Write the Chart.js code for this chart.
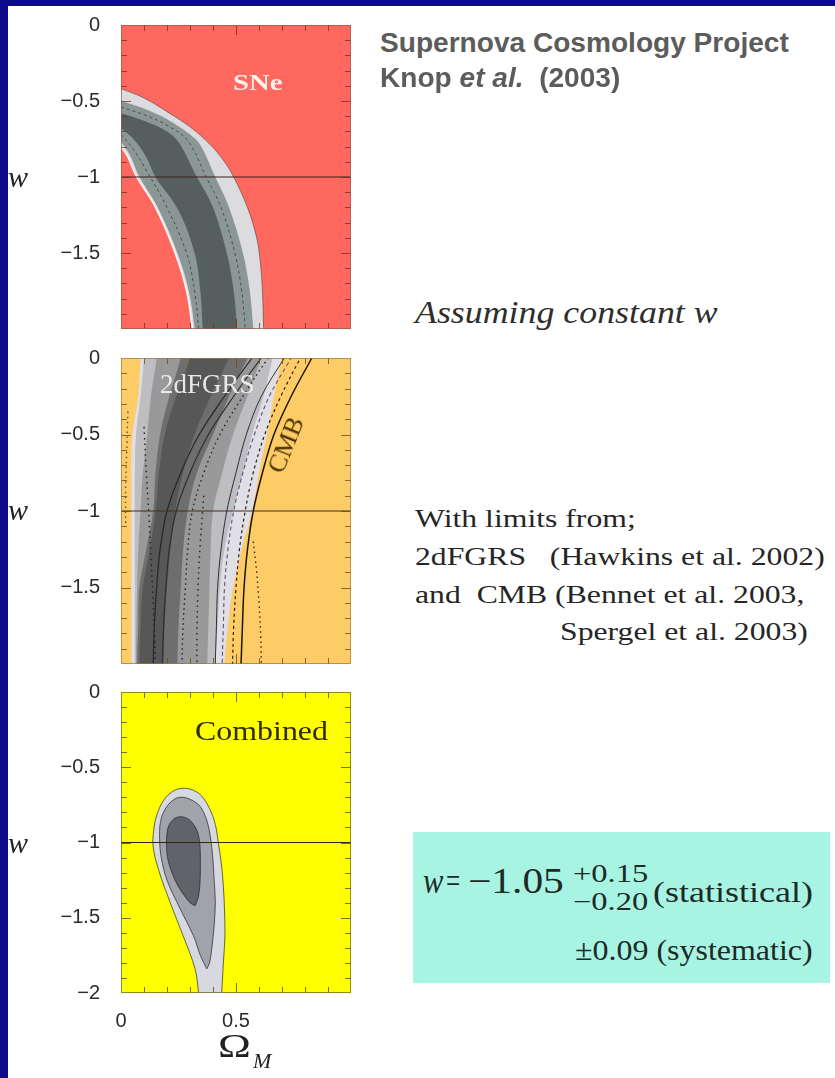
<!DOCTYPE html>
<html>
<head>
<meta charset="utf-8">
<title>Supernova Cosmology Project – constant w</title>
<script src="https://cdn.jsdelivr.net/npm/chart.js"></script>
<style>
  html, body { margin: 0; padding: 0; }
  body { width: 835px; height: 1078px; position: relative; overflow: hidden; background: #ffffff; }
  .edge-left { position: absolute; left: 0; top: 0; width: 8px; height: 1078px; background: #0a0a8a; }
  .edge-top { position: absolute; left: 0; top: 0; width: 835px; height: 6px; background: #0a0a8a; }
  canvas { position: absolute; left: 0; }
  .t { position: absolute; white-space: pre; transform-origin: 0 0; line-height: normal; }
  .serif { font-family: "Liberation Serif", "Times New Roman", serif; }
  .sans { font-family: "Liberation Sans", Arial, sans-serif; }
  .box { position: absolute; left: 413px; top: 832px; width: 417px; height: 151px; background: rgb(168, 244, 226); }
</style>
</head>
<body>
<div class="edge-left"></div>
<div class="edge-top"></div>

<canvas id="sne" width="360" height="334" style="top:5px"></canvas>
<canvas id="limits" width="360" height="336" style="top:338px"></canvas>
<canvas id="combined" width="360" height="406" style="top:672px"></canvas>

<!-- axis titles -->
<div class="t serif" style="left:8px;top:160px;font-size:30px;font-style:italic;color:#222">w</div>
<div class="t serif" style="left:8px;top:493px;font-size:30px;font-style:italic;color:#222">w</div>
<div class="t serif" style="left:8px;top:826px;font-size:30px;font-style:italic;color:#222">w</div>
<div class="t serif" style="left:218px;top:1027px;font-size:34px;color:#222;transform:scaleX(1.3)">Ω</div>
<div class="t serif" style="left:253px;top:1048px;font-size:22px;font-style:italic;color:#222">M</div>

<!-- panel labels -->
<div class="t serif" style="left:233px;top:69px;font-size:24px;font-weight:bold;color:#fff0ea;transform:scaleX(1.2)">SNe</div>
<div class="t serif" style="left:160px;top:369px;font-size:27px;color:rgba(242,242,242,0.92)">2dFGRS</div>
<div class="t serif" style="left:286px;top:445px;font-size:26px;color:#4b3300;transform-origin:50% 50%;transform:translate(-50%,-50%) rotate(-68deg)">CMB</div>
<div class="t serif" style="left:195px;top:715px;font-size:28px;color:#2f2c00;transform:scaleX(1.14)">Combined</div>

<!-- right-hand notes -->
<div class="t sans" style="left:380px;top:28px;font-size:27px;font-weight:bold;color:#5c5c5c;transform:scaleX(1.04)">Supernova Cosmology Project</div>
<div class="t sans" style="left:380px;top:63px;font-size:27px;font-weight:bold;color:#5c5c5c;transform:scaleX(1.04)">Knop <i>et al.</i>  (2003)</div>
<div class="t serif" style="left:415px;top:294px;font-size:32px;font-style:italic;color:#2e2e2e;transform:scaleX(1.12)">Assuming constant w</div>
<div class="t serif" style="left:415px;top:504px;font-size:26px;color:#262626;transform:scaleX(1.22)">With limits from;</div>
<div class="t serif" style="left:415px;top:542px;font-size:26px;color:#262626;transform:scaleX(1.22)">2dFGRS   (Hawkins et al. 2002)</div>
<div class="t serif" style="left:415px;top:580px;font-size:26px;color:#262626;transform:scaleX(1.22)">and  CMB (Bennet et al. 2003,</div>
<div class="t serif" style="left:560px;top:617px;font-size:26px;color:#262626;transform:scaleX(1.22)">Spergel et al. 2003)</div>

<div class="box"></div>
<div class="t serif" style="left:423px;top:860px;font-size:36px;font-style:italic;color:#1e2a28;transform:scaleX(0.85)">w</div>
<div class="t serif" style="left:446px;top:860px;font-size:36px;color:#1e2a28;transform:scaleX(0.7)">=</div>
<div class="t serif" style="left:468px;top:860px;font-size:36px;color:#1e2a28;transform:scaleX(1.15)">−1.05</div>
<div class="t serif" style="left:573px;top:860px;font-size:25px;color:#1e2a28;transform:scaleX(1.3)">+0.15</div>
<div class="t serif" style="left:573px;top:888px;font-size:25px;color:#1e2a28;transform:scaleX(1.3)">−0.20</div>
<div class="t serif" style="left:653px;top:875px;font-size:30px;color:#1e2a28;transform:scaleX(1.2)">(statistical)</div>
<div class="t serif" style="left:575px;top:933px;font-size:30px;color:#1e2a28;transform:scaleX(1.065)">±0.09 (systematic)</div>

<script>
// ---- axis ticks -------------------------------------------------------
const omegaMinorTicks = [0.1, 0.2, 0.3, 0.4, 0.5, 0.6, 0.7, 0.8, 0.9];
const omegaMajorTicks = [0.5];
const omegaTickLabels = [0, 0.5];
const wMinorTicks = [-0.1, -0.2, -0.3, -0.4, -0.5, -0.6, -0.7, -0.8, -0.9, -1,
                     -1.1, -1.2, -1.3, -1.4, -1.5, -1.6, -1.7, -1.8, -1.9];
const wMajorTicks = [-0.5, -1, -1.5];
const wTickLabelsUpper = [0, -0.5, -1, -1.5];
const wTickLabelsLower = [0, -0.5, -1, -1.5, -2];
const wCosmologicalConstant = -1;

// ---- SNe confidence bands, [Omega_M, w] ----------------------------------
const sneOuterUpper = [[-0.05,-0.40],[0,-0.42],[0.1,-0.48],[0.2,-0.57],[0.3,-0.67],[0.39,-0.79],[0.45,-0.9],[0.49,-1.0],[0.55,-1.2],[0.59,-1.4],[0.605,-1.55],[0.615,-1.75],[0.62,-2.0],[0.622,-2.1]];
const sneMidUpper   = [[-0.05,-0.48],[0,-0.5],[0.1,-0.55],[0.2,-0.62],[0.3,-0.72],[0.345,-0.79],[0.41,-1.0],[0.47,-1.2],[0.53,-1.5],[0.56,-1.75],[0.575,-2.0],[0.578,-2.1]];
const sneCoreUpper  = [[-0.05,-0.56],[0,-0.58],[0.1,-0.63],[0.2,-0.7],[0.25,-0.77],[0.33,-1.0],[0.4,-1.2],[0.46,-1.5],[0.49,-1.75],[0.505,-2.0],[0.508,-2.1]];
const sneCoreLower  = [[-0.05,-0.64],[0,-0.68],[0.06,-0.76],[0.11,-0.87],[0.15,-1.0],[0.25,-1.22],[0.32,-1.5],[0.345,-1.75],[0.355,-2.0],[0.357,-2.1]];
const sneMidLower   = [[-0.03,-0.72],[0,-0.77],[0.04,-0.86],[0.08,-1.0],[0.16,-1.2],[0.245,-1.5],[0.295,-1.75],[0.32,-2.0],[0.323,-2.1]];
const sneOuterLower = [[-0.03,-0.75],[0,-0.8],[0.03,-0.87],[0.068,-1.0],[0.15,-1.2],[0.235,-1.5],[0.285,-1.75],[0.31,-2.0],[0.313,-2.1]];
const sneDashedUpper = [[0,-0.54],[0.1,-0.59],[0.2,-0.66],[0.29,-0.76],[0.37,-1.0],[0.435,-1.2],[0.495,-1.5],[0.525,-1.75],[0.54,-2.0],[0.542,-2.1]];
const sneDashedLower = [[0,-0.72],[0.05,-0.81],[0.1,-0.93],[0.2,-1.2],[0.285,-1.5],[0.32,-1.75],[0.337,-2.0],[0.339,-2.1]];

// ---- 2dFGRS likelihood regions, [Omega_M, w] -----------------------------
const twodfOuterLeft  = [[0.09,0.1],[0.085,0],[0.075,-0.25],[0.05,-0.5],[0.045,-0.75],[0.045,-1],[0.045,-1.25],[0.045,-1.5],[0.045,-1.75],[0.045,-2],[0.045,-2.1]];
const twodfOuterRight = [[0.72,0.1],[0.70,0],[0.665,-0.25],[0.635,-0.5],[0.60,-0.75],[0.57,-1],[0.525,-1.25],[0.487,-1.5],[0.465,-1.75],[0.45,-2],[0.448,-2.1]];
const twodfPaleLeft   = [[0.105,0.1],[0.10,0],[0.085,-0.25],[0.065,-0.5],[0.06,-0.75],[0.06,-1],[0.06,-1.25],[0.06,-1.5],[0.06,-1.75],[0.06,-2],[0.06,-2.1]];
const twodfPaleRight  = [[0.68,0.1],[0.66,0],[0.62,-0.25],[0.57,-0.5],[0.53,-0.75],[0.487,-1],[0.45,-1.25],[0.43,-1.5],[0.42,-1.75],[0.41,-2],[0.408,-2.1]];
const twodfMidLeft    = [[0.16,0.1],[0.155,0],[0.13,-0.25],[0.114,-0.5],[0.095,-0.75],[0.085,-1],[0.075,-1.25],[0.07,-1.5],[0.067,-1.75],[0.065,-2],[0.065,-2.1]];
const twodfMidRight   = [[0.63,0.1],[0.61,0],[0.55,-0.25],[0.487,-0.5],[0.44,-0.75],[0.40,-1],[0.39,-1.25],[0.385,-1.5],[0.38,-1.75],[0.375,-2],[0.374,-2.1]];
const twodfDarkLeft   = [[0.27,0.1],[0.26,0],[0.21,-0.25],[0.17,-0.5],[0.15,-0.75],[0.14,-1],[0.11,-1.25],[0.08,-1.5],[0.075,-1.75],[0.07,-2],[0.07,-2.1]];
const twodfDarkRight  = [[0.58,0.1],[0.55,0],[0.47,-0.25],[0.40,-0.5],[0.33,-0.75],[0.29,-1],[0.27,-1.25],[0.26,-1.5],[0.25,-1.75],[0.245,-2],[0.244,-2.1]];
const twodfCoreLeft   = [[0.31,0.1],[0.30,0],[0.24,-0.25],[0.19,-0.5],[0.165,-0.75],[0.15,-1],[0.125,-1.25],[0.095,-1.5],[0.085,-1.75],[0.08,-2],[0.08,-2.1]];
const twodfCoreRight  = [[0.5,0.1],[0.47,0],[0.39,-0.25],[0.32,-0.5],[0.27,-0.75],[0.235,-1],[0.215,-1.25],[0.2,-1.5],[0.19,-1.75],[0.185,-2],[0.185,-2.1]];
const twodfContourA   = [[0.6,0.05],[0.57,0],[0.45,-0.25],[0.34,-0.5],[0.26,-0.75],[0.2,-1],[0.17,-1.25],[0.155,-1.5],[0.145,-1.75],[0.14,-2],[0.14,-2.1]];
const twodfContourB   = [[0.64,0.05],[0.61,0],[0.49,-0.25],[0.38,-0.5],[0.3,-0.75],[0.24,-1],[0.21,-1.25],[0.195,-1.5],[0.185,-1.75],[0.18,-2],[0.18,-2.1]];
const twodfDottedA    = [[0.67,0.05],[0.64,0],[0.53,-0.25],[0.43,-0.5],[0.36,-0.75],[0.31,-1],[0.29,-1.25],[0.28,-1.5],[0.27,-1.75],[0.265,-2],[0.265,-2.1]];
const twodfDottedB    = [[0.1,-0.45],[0.11,-0.75],[0.12,-1.0],[0.13,-1.3],[0.14,-1.6],[0.15,-2],[0.15,-2.1]];
const twodfDottedC    = [[0.36,-0.9],[0.345,-1.2],[0.335,-1.5],[0.33,-1.8],[0.33,-2],[0.33,-2.1]];
const twodfDottedD    = [[0.03,-0.35],[0.025,-0.6],[0.02,-0.85],[0.02,-1.1]];

// ---- CMB contours, [Omega_M, w] ------------------------------------------
const cmbOuter  = [[0.85,0.05],[0.83,0],[0.74,-0.25],[0.665,-0.5],[0.615,-0.75],[0.575,-1],[0.55,-1.25],[0.535,-1.5],[0.528,-1.75],[0.522,-2],[0.52,-2.1]];
const cmbMiddle = [[0.8,0.05],[0.78,0],[0.695,-0.25],[0.625,-0.5],[0.575,-0.75],[0.54,-1],[0.515,-1.25],[0.5,-1.5],[0.49,-1.75],[0.485,-2],[0.484,-2.1]];
const cmbInnerA = [[0.76,0.05],[0.74,0],[0.645,-0.25],[0.58,-0.5],[0.53,-0.75],[0.49,-1],[0.465,-1.25],[0.45,-1.5],[0.445,-1.75],[0.44,-2],[0.44,-2.1]];
const cmbInnerB = [[0.73,0.05],[0.71,0],[0.61,-0.25],[0.545,-0.5],[0.5,-0.75],[0.46,-1],[0.435,-1.25],[0.42,-1.5],[0.415,-1.75],[0.41,-2],[0.41,-2.1]];
const cmbDotted = [[0.575,-1.2],[0.59,-1.4],[0.6,-1.6],[0.607,-1.8],[0.61,-2],[0.61,-2.1]];

// ---- combined confidence regions, [Omega_M, w] ----------------------------
const combinedOuter = [[0.34,-2.1],[0.337,-2.0],[0.322,-1.84],[0.27,-1.62],[0.214,-1.40],[0.163,-1.18],[0.14,-1.03],[0.142,-0.92],[0.155,-0.82],[0.185,-0.72],[0.225,-0.66],[0.265,-0.64],[0.31,-0.65],[0.35,-0.69],[0.387,-0.78],[0.41,-0.88],[0.423,-1.0],[0.437,-1.15],[0.445,-1.29],[0.45,-1.45],[0.452,-1.62],[0.445,-1.8],[0.438,-2.0],[0.436,-2.1]];
const combinedMiddle = [[0.373,-1.84],[0.345,-1.75],[0.315,-1.62],[0.257,-1.44],[0.2,-1.25],[0.175,-1.1],[0.168,-0.98],[0.172,-0.86],[0.195,-0.77],[0.235,-0.71],[0.27,-0.70],[0.31,-0.72],[0.344,-0.76],[0.37,-0.84],[0.385,-0.93],[0.398,-1.08],[0.405,-1.25],[0.41,-1.4],[0.405,-1.55],[0.395,-1.7],[0.385,-1.8],[0.373,-1.84]];
const combinedInner = [[0.322,-1.42],[0.30,-1.40],[0.265,-1.33],[0.235,-1.25],[0.205,-1.12],[0.198,-1.0],[0.205,-0.9],[0.225,-0.85],[0.25,-0.83],[0.28,-0.835],[0.305,-0.86],[0.33,-0.92],[0.342,-1.0],[0.345,-1.13],[0.343,-1.28],[0.335,-1.37],[0.322,-1.42]];

// ---- helpers -------------------------------------------------------------
const toPoints = list => list.map(([x, y]) => ({ x, y }));
const closeBand = (a, b) => toPoints(a.concat(b.slice().reverse()));
const minusLabel = v => (v === 0 ? '0' : '\u2212' + Math.abs(v));

function region(points, color, order, stroke) {
  return {
    data: points, showLine: true, fill: 'shape', backgroundColor: color,
    borderColor: stroke || 'rgba(0,0,0,0)', borderWidth: stroke ? 1 : 0,
    pointRadius: 0, tension: 0.35, capBezierPoints: false, order
  };
}
function contour(list, color, width, dash, order) {
  return {
    data: toPoints(list), showLine: true, fill: false, borderColor: color,
    borderWidth: width, borderDash: dash || [], pointRadius: 0,
    tension: 0.35, capBezierPoints: false, order
  };
}
function referenceLine(color) {
  return {
    data: [{ x: 0, y: wCosmologicalConstant }, { x: 1, y: wCosmologicalConstant }],
    showLine: true, fill: false, borderColor: color, borderWidth: 1.2,
    pointRadius: 0, order: 0
  };
}

// background, frame and inward tick marks drawn through the chart's scales
const panelFrame = {
  id: 'panelFrame',
  beforeDatasetsDraw(chart, args, opts) {
    const { ctx, chartArea: a } = chart;
    ctx.save();
    ctx.fillStyle = opts.background;
    ctx.fillRect(a.left, a.top, a.right - a.left, a.bottom - a.top);
    ctx.restore();
  },
  afterDatasetsDraw(chart, args, opts) {
    const { ctx, chartArea: a, scales } = chart;
    const xs = scales.x, ys = scales.y;
    ctx.save();
    ctx.strokeStyle = opts.tickColor;
    ctx.lineWidth = 1;
    ctx.beginPath();
    omegaMinorTicks.forEach(v => {
      const px = Math.round(xs.getPixelForValue(v)) + 0.5;
      const len = omegaMajorTicks.includes(v) ? 10 : 6;
      ctx.moveTo(px, a.top); ctx.lineTo(px, a.top + len);
      ctx.moveTo(px, a.bottom); ctx.lineTo(px, a.bottom - len);
    });
    wMinorTicks.forEach(v => {
      const py = Math.round(ys.getPixelForValue(v)) + 0.5;
      const len = wMajorTicks.includes(v) ? 10 : 6;
      ctx.moveTo(a.left, py); ctx.lineTo(a.left + len, py);
      ctx.moveTo(a.right, py); ctx.lineTo(a.right - len, py);
    });
    ctx.stroke();
    ctx.strokeStyle = opts.frameColor;
    ctx.strokeRect(a.left + 0.5, a.top + 0.5, a.right - a.left - 1, a.bottom - a.top - 1);
    ctx.restore();
  }
};

const tickFont = { family: '"Liberation Sans", Arial, sans-serif', size: 20 };
const noScalePadding = s => { s.paddingTop = 0; s.paddingBottom = 0; s.paddingLeft = 0; s.paddingRight = 0; };

function makePanel(id, datasets, look) {
  return new Chart(document.getElementById(id), {
    type: 'scatter',
    data: { datasets },
    plugins: [panelFrame],
    options: {
      responsive: false,
      devicePixelRatio: 1,
      animation: false,
      events: [],
      layout: { padding: { left: 0, right: 9, top: 20, bottom: 0 } },
      plugins: {
        legend: { display: false },
        tooltip: { enabled: false },
        panelFrame: look.frame
      },
      scales: {
        x: {
          type: 'linear', min: 0, max: 1,
          grid: { display: false, drawTicks: false },
          border: { display: false },
          ticks: {
            display: look.showOmega, autoSkip: false, padding: 16,
            font: tickFont, color: '#2b2b2b',
            callback: v => (v === 0 ? '0' : String(v))
          },
          afterBuildTicks: s => { s.ticks = omegaTickLabels.map(v => ({ value: v })); },
          afterFit: s => { s.height = look.xAxisHeight; noScalePadding(s); }
        },
        y: {
          type: 'linear', min: -2, max: 0, position: 'left',
          grid: { display: false, drawTicks: false },
          border: { display: false },
          ticks: {
            autoSkip: false, padding: 21, font: tickFont, color: '#2b2b2b',
            callback: v => minusLabel(v)
          },
          afterBuildTicks: s => { s.ticks = look.wLabels.map(v => ({ value: v })); },
          afterFit: s => { s.width = 121; noScalePadding(s); }
        }
      }
    }
  });
}

// ---- SNe alone -----------------------------------------------------------
makePanel('sne', [
  region(closeBand(sneOuterUpper, sneOuterLower), '#dcdce0', 10),
  region(closeBand(sneMidUpper, sneMidLower), '#8a9794', 9),
  region(closeBand(sneCoreUpper, sneCoreLower), '#565f5e', 8),
  contour(sneDashedUpper, 'rgba(55,65,75,0.85)', 1, [3, 3], 3),
  contour(sneDashedLower, 'rgba(55,65,75,0.85)', 1, [3, 3], 3),
  contour(sneOuterUpper, 'rgba(90,60,60,0.6)', 1, [], 2),
  contour(sneOuterLower, 'rgba(255,255,255,0.9)', 1.5, [], 2),
  referenceLine('#3a2020')
], {
  showOmega: false, xAxisHeight: 10, wLabels: wTickLabelsUpper,
  frame: { background: 'rgb(255,104,94)', tickColor: 'rgba(120,40,35,0.75)', frameColor: 'rgba(150,90,85,0.7)' }
});

// ---- 2dFGRS and CMB limits -----------------------------------------------
makePanel('limits', [
  region(closeBand(twodfOuterLeft, twodfOuterRight), '#e0dfe6', 14),
  region(closeBand(twodfPaleLeft, twodfPaleRight), '#bebec2', 13),
  region(closeBand(twodfMidLeft, twodfMidRight), '#999999', 12),
  region(closeBand(twodfDarkLeft, twodfDarkRight), '#6e6e6e', 11),
  region(closeBand(twodfCoreLeft, twodfCoreRight), '#575757', 10),
  contour(twodfContourA, '#262626', 1.2, [], 4),
  contour(twodfContourB, '#2e2e2e', 1.2, [], 4),
  contour(twodfDottedA, '#222222', 1.4, [1.5, 3.5], 4),
  contour(twodfDottedB, '#222222', 1.4, [1.5, 4], 4),
  contour(twodfDottedC, '#222222', 1.4, [1.5, 4], 4),
  contour(twodfDottedD, '#6a5020', 1.4, [1.5, 3.5], 4),
  contour(cmbInnerB, '#303030', 1, [], 3),
  contour(cmbInnerA, '#5c5478', 1.1, [4, 3], 3),
  contour(cmbMiddle, '#2a2010', 1.2, [3, 3], 3),
  contour(cmbDotted, '#3a2a10', 1.4, [1.5, 3.5], 3),
  contour(cmbOuter, '#1e1408', 1.5, [], 2),
  referenceLine('#3a3020')
], {
  showOmega: false, xAxisHeight: 10, wLabels: wTickLabelsUpper,
  frame: { background: 'rgb(254,204,102)', tickColor: 'rgba(110,80,20,0.8)', frameColor: 'rgba(150,120,60,0.7)' }
});

// ---- combined constraint -------------------------------------------------
makePanel('combined', [
  region(toPoints(combinedOuter), '#d8d8e0', 10, 'rgba(70,70,40,0.8)'),
  region(toPoints(combinedMiddle), '#a2a2aa', 9, 'rgba(60,60,70,0.85)'),
  region(toPoints(combinedInner), '#62626a', 8, 'rgba(50,50,55,0.85)'),
  referenceLine('#2a2a10')
], {
  showOmega: true, xAxisHeight: 85, wLabels: wTickLabelsLower,
  frame: { background: 'rgb(255,255,0)', tickColor: 'rgba(90,90,20,0.85)', frameColor: 'rgba(110,110,40,0.8)' }
});
</script>
</body>
</html>
